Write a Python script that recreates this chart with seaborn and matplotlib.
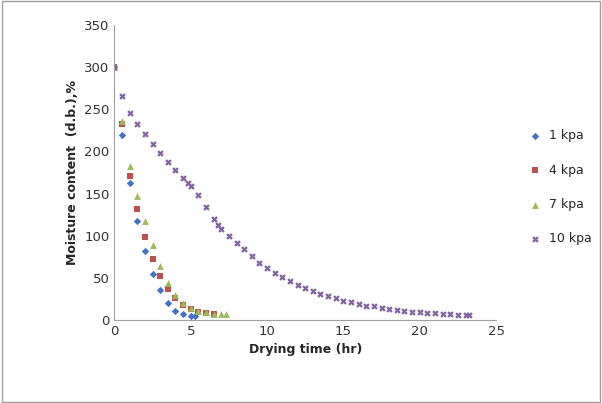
import pandas as pd
import matplotlib
matplotlib.use("Agg")
import matplotlib.pyplot as plt
import seaborn as sns

t1 = [0, 0.5, 1, 1.5, 2, 2.5, 3, 3.5, 4, 4.5, 5, 5.3]
m1 = [300, 220, 162, 117, 82, 55, 35, 20, 11, 7, 5, 5]
t4 = [0, 0.5, 1, 1.5, 2, 2.5, 3, 3.5, 4, 4.5, 5, 5.5, 6, 6.5]
m4 = [300, 232, 171, 132, 98, 72, 52, 37, 26, 18, 13, 10, 8, 7]
t7 = [0, 0.5, 1, 1.5, 2, 2.5, 3, 3.5, 4, 4.5, 5, 5.5, 6, 6.5, 7, 7.3]
m7 = [300, 236, 183, 147, 117, 89, 64, 44, 30, 20, 14, 11, 9, 7.5, 7, 7]
t10 = [0, 0.5, 1, 1.5, 2, 2.5, 3, 3.5, 4, 4.5, 4.8, 5, 5.5, 6, 6.5, 6.8, 7, 7.5,
       8, 8.5, 9, 9.5, 10, 10.5, 11, 11.5, 12, 12.5, 13, 13.5, 14, 14.5, 15, 15.5,
       16, 16.5, 17, 17.5, 18, 18.5, 19, 19.5, 20, 20.5, 21, 21.5, 22, 22.5, 23, 23.2]
m10 = [300, 266, 245, 233, 221, 209, 198, 188, 178, 168, 163, 159, 148, 134, 120, 113, 108, 100,
       91, 84, 76, 68, 62, 56, 51, 46, 42, 38, 34, 31, 28, 26, 23, 21,
       19, 17, 16, 14, 13, 12, 11, 10, 9, 8.5, 8, 7.5, 7, 6.5, 6, 6]

labels = ["1 kpa", "4 kpa", "7 kpa", "10 kpa"]
frames = []
for lab, t, m in zip(labels, [t1, t4, t7, t10], [m1, m4, m7, m10]):
    frames.append(pd.DataFrame({"t": t, "m": m, "p": lab}))
df = pd.concat(frames)

sns.set_style("white")
fig = plt.figure(figsize=(6.02, 4.03), dpi=100)
ax = fig.add_axes([0.19, 0.206, 0.634, 0.732])
colors = ["#4472C4", "#C0504D", "#9BBB59", "#8064A2"]
markers = ["D", "s", "^", "X"]
sizes = {"1 kpa": 14, "4 kpa": 22, "7 kpa": 24, "10 kpa": 22}
for lab, c, mk in zip(labels, colors, markers):
    d = df[df.p == lab]
    ax.scatter(d.t, d.m, color=c, marker=mk, s=sizes[lab], label=lab, linewidths=0)

ax.set_xlim(0, 25)
ax.set_ylim(0, 350)
ax.set_xticks(range(0, 26, 5))
ax.set_yticks(range(0, 351, 50))
ax.tick_params(labelsize=9.5, colors="#333333", length=0)
for s in ["top", "right"]:
    ax.spines[s].set_visible(False)
for s in ["left", "bottom"]:
    ax.spines[s].set_color("#A0A0A0")
ax.set_xlabel("Drying time (hr)", fontsize=9, fontweight="bold")
ax.set_ylabel("Moisture content  (d.b.),%", fontsize=9, fontweight="bold")
ax.legend(loc="center left", bbox_to_anchor=(1.04, 0.45), frameon=False,
          fontsize=9, labelspacing=1.7, handletextpad=0.1)
fig.patches.append(plt.Rectangle((0.003, 0.003), 0.994, 0.994, transform=fig.transFigure,
                                 fill=False, edgecolor="#A0A0A0", lw=1))
fig.savefig("out.png", dpi=100)
